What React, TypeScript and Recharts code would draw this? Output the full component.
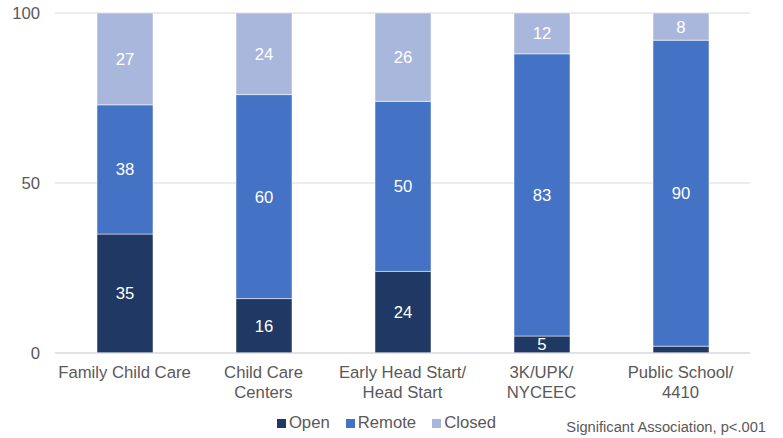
import React from "react";
import { BarChart, Bar, XAxis, YAxis, CartesianGrid, Legend, LabelList } from "recharts";

const categories = ["Family Child Care|", "Child Care|Centers", "Early Head Start/|Head Start", "3K/UPK/|NYCEEC", "Public School/|4410"];
const openValues = [35, 16, 24, 5, 2];
const remoteValues = [38, 60, 50, 83, 90];
const closedValues = [27, 24, 26, 12, 8];
const yTicks = [0, 50, 100];
const openLabels = ["35", "16", "24", "5", ""];

const data = categories.map((c, i) => ({
  name: c,
  open: openValues[i],
  remote: remoteValues[i],
  closed: closedValues[i],
  openLabel: openLabels[i],
}));

const COLORS = { open: "#203864", remote: "#4472C4", closed: "#A9B7DD" };
const FONT = "'Liberation Sans', Arial, Helvetica, sans-serif";
const FS = 16.7;

const XTick = (props: any) => {
  const { x, y, payload } = props;
  const lines = String(payload.value).split("|").filter((s) => s.length > 0);
  return (
    <g>
      {lines.map((l, i) => (
        <text key={i} x={x} y={y + 17 + i * 19.5} textAnchor="middle" fill="#595959" fontSize={FS} fontFamily={FONT}>
          {l}
        </text>
      ))}
    </g>
  );
};

const LegendContent = () => {
  const items = [
    { k: "Open", c: COLORS.open },
    { k: "Remote", c: COLORS.remote },
    { k: "Closed", c: COLORS.closed },
  ];
  return (
    <div style={{ display: "flex", justifyContent: "center", fontFamily: FONT, fontSize: FS, color: "#595959", paddingLeft: 23, paddingTop: 3 }}>
      {items.map((it, i) => (
        <div key={it.k} style={{ display: "flex", alignItems: "center", marginLeft: i === 0 ? 0 : 16 }}>
          <span style={{ display: "inline-block", width: 9, height: 9, background: it.c, marginRight: 3 }} />
          <span>{it.k}</span>
        </div>
      ))}
    </div>
  );
};

export default function App() {
  return (
    <div style={{ position: "absolute", left: 0, top: 0, width: 783, height: 438, background: "#fff" }}>
      <BarChart width={783} height={438} data={data} margin={{ top: 13, right: 33, left: 0, bottom: 0 }} barSize={56}>
        <CartesianGrid vertical={false} stroke="#D9D9D9" />
        <XAxis dataKey="name" tick={<XTick />} tickLine={false} axisLine={{ stroke: "#D9D9D9" }} height={57} interval={0} />
        <YAxis
          domain={[0, 100]}
          ticks={yTicks}
          width={55}
          tickLine={false}
          axisLine={false}
          tickMargin={9}
          tick={{ fill: "#595959", fontSize: FS, fontFamily: FONT }}
        />
        <Legend verticalAlign="bottom" height={28} content={<LegendContent />} />
        <Bar dataKey="open" stackId="a" fill={COLORS.open} stroke="#fff" strokeWidth={0.5} isAnimationActive={false}>
          <LabelList dataKey="openLabel" position="center" fill="#fff" fontSize={FS} fontFamily={FONT} />
        </Bar>
        <Bar dataKey="remote" stackId="a" fill={COLORS.remote} stroke="#fff" strokeWidth={0.5} isAnimationActive={false}>
          <LabelList dataKey="remote" position="center" fill="#fff" fontSize={FS} fontFamily={FONT} />
        </Bar>
        <Bar dataKey="closed" stackId="a" fill={COLORS.closed} stroke="#fff" strokeWidth={0.5} isAnimationActive={false}>
          <LabelList dataKey="closed" position="center" fill="#fff" fontSize={FS} fontFamily={FONT} />
        </Bar>
      </BarChart>
      <div style={{ position: "absolute", right: 17, top: 419, fontFamily: FONT, fontSize: 14.7, color: "#595959" }}>
        Significant Association, p&lt;.001
      </div>
    </div>
  );
}
